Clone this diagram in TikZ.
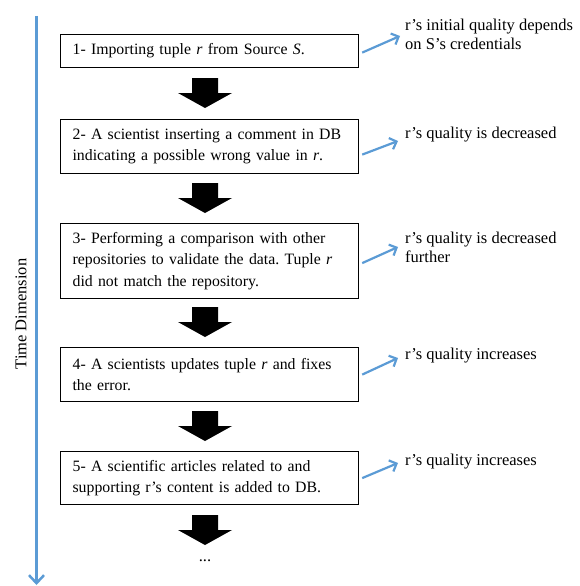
\documentclass[tikz,border=0pt]{standalone}
\usepackage{fontspec}
\setmainfont{Liberation Serif}
\usetikzlibrary{arrows.meta}
\definecolor{axisblue}{HTML}{5B9BD5}
\frenchspacing
\begin{document}
\begin{tikzpicture}[x=1pt,y=-1pt,
  txt/.style={font=\fontsize{16.5}{19}\selectfont},
  boxtxt/.style={font=\fontsize{15.8}{21.5}\selectfont},
  stepbox/.style={boxtxt, draw, line width=1.2pt, minimum width=298pt, text width=280pt,
    align=left, inner xsep=9pt, inner ysep=0pt, anchor=north west},
  qlabel/.style={txt, inner sep=0pt, anchor=west, align=left},
  smallarrow/.style={axisblue, line width=2.2pt, -{Straight Barb[length=6pt,width=12pt]}},
  downblock/.pic={\fill (-13,0) -- (13,0) -- (13,15) -- (27,15) -- (0,30) -- (-27,15) -- (-13,15) -- cycle;}
]
\useasboundingbox (0,0) rectangle (580,586);

% time axis
\coordinate (tTop) at (36.5,16);
\coordinate (tBot) at (36.5,585);
\draw[axisblue, line width=2.5pt, -{Straight Barb[length=8pt,width=15pt]}] (tTop) -- (tBot);
\node[txt, rotate=90] (tlabel) at (21,314) {Time Dimension};

% steps
\node[stepbox, minimum height=33pt] (b1) at (60,34) {\hspace*{3pt}1- Importing tuple \textit{r} from Source \textit{S}.};
\pic at (205,78) {downblock};
\node[stepbox, minimum height=54pt] (b2) at (60,119) {\hspace*{3pt}2- A scientist inserting a comment in DB\\\hspace*{3pt}indicating a possible wrong value in \textit{r}.};
\pic at (205,183) {downblock};
\node[stepbox, minimum height=75pt] (b3) at (60,223) {\hspace*{3pt}3- Performing a comparison with other\\\hspace*{3pt}repositories to validate the data. Tuple \textit{r}\\\hspace*{3pt}did not match the repository.};
\pic at (205,307) {downblock};
\node[stepbox, minimum height=54pt] (b4) at (60,347) {\hspace*{3pt}4- A scientists updates tuple \textit{r} and fixes\\\hspace*{3pt}the error.};
\pic at (205,411) {downblock};
\node[stepbox, minimum height=53pt] (b5) at (60,451) {\hspace*{3pt}5- A scientific articles related to and\\\hspace*{3pt}supporting r’s content is added to DB.};
\pic at (205,515) {downblock};
\node[txt] (dots) at (205,561) {...};

% quality labels
\node[qlabel] (l1) at (405,34) {r’s initial quality depends\\on S’s credentials};
\node[qlabel] (l2) at (405,135) {r’s quality is decreased};
\node[qlabel] (l3) at (405,247) {r’s quality is decreased\\further};
\node[qlabel] (l4) at (405,356) {r’s quality increases};
\node[qlabel] (l5) at (405,462) {r’s quality increases};

\draw[smallarrow] ([shift={(3,1.5)}]b1.east) -- ([shift={(-5,2)}]l1.west);
\draw[smallarrow] ([shift={(3,8)}]b2.east) -- ([shift={(-7,6)}]l2.west);
\draw[smallarrow] ([shift={(3,2)}]b3.east) -- ([shift={(-7,0)}]l3.west);
\draw[smallarrow] ([shift={(3,0)}]b4.east) -- ([shift={(-7,2)}]l4.west);
\draw[smallarrow] ([shift={(3,0)}]b5.east) -- ([shift={(-7,1)}]l5.west);
\end{tikzpicture}
\end{document}
